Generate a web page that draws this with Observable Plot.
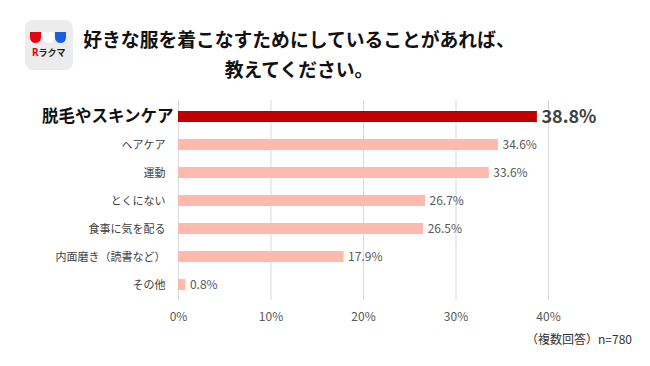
<!DOCTYPE html>
<html><head><meta charset="utf-8">
<script src="https://cdn.jsdelivr.net/npm/d3@7"></script>
<script src="https://cdn.jsdelivr.net/npm/@observablehq/plot@0.6"></script>
<style>
body{margin:0;background:#fff;font-family:"Noto Sans CJK JP","Noto Sans",sans-serif;}
#wrap{position:relative;width:650px;height:366px;overflow:hidden;background:#fff;}
#title{position:absolute;left:62px;top:24px;width:474px;text-align:center;font-size:18.8px;font-weight:bold;line-height:30px;color:#111;white-space:nowrap;}
#logo{position:absolute;left:25px;top:20px;}
#caption{position:absolute;right:18px;top:330px;font-size:12px;color:#333;}
#chart{position:absolute;left:0;top:0;}
</style></head>
<body><div id="wrap">
<div id="chart"></div>
<svg id="logo" width="48" height="50" viewBox="0 0 48 50">
<rect x="0" y="0" width="48" height="50" rx="8" fill="#ececec"/>
<path d="M5 12 h11 v5.5 a5.5 5.5 0 0 1 -11 0 z" fill="#e60012"/>
<path d="M18 12 h11 v5.5 a5.5 5.5 0 0 1 -11 0 z" fill="#ffffff"/>
<path d="M30 12 h11 v5.5 a5.5 5.5 0 0 1 -11 0 z" fill="#1a5fe0"/>
<text x="7" y="36" font-size="10" font-weight="bold" fill="#e60012" font-family="Noto Sans">R</text>
<text x="13.5" y="36" font-size="9" font-weight="bold" fill="#222" font-family="Noto Sans CJK JP">ラクマ</text>
</svg>
<div id="title">好きな服を着こなすためにしていることがあれば、<br>教えてください。</div>
<div id="caption">（複数回答）n=780</div>
</div>
<script>
const categories = ["脱毛やスキンケア","ヘアケア","運動","とくにない","食事に気を配る","内面磨き（読書など）","その他"];
const values = [38.8, 34.6, 33.6, 26.7, 26.5, 17.9, 0.8];
const ticks = [0, 10, 20, 30, 40];
const highlight = "脱毛やスキンケア";

const data = categories.map((c, i) => ({label: c, value: values[i]}));
const topRow = data.filter(d => d.label === highlight);
const rest = data.filter(d => d.label !== highlight);

const chart = Plot.plot({
  width: 650, height: 366,
  marginLeft: 178, marginRight: 102, marginTop: 100, marginBottom: 66,
  style: {fontFamily: '"Noto Sans CJK JP","Noto Sans",sans-serif', background: "transparent"},
  x: {domain: [0, 40], label: null, axis: null},
  y: {domain: categories, paddingInner: 0.62, paddingOuter: 0.31, axis: null},
  marks: [
    Plot.ruleX(ticks, {stroke: "#d9d9d9", strokeWidth: 1}),
    Plot.axisX({ticks: ticks, tickFormat: d => d + "%", tickSize: 0, tickPadding: 12, fontSize: 12, color: "#595959", label: null}),
    Plot.barX(data, {x: "value", y: "label", fill: d => d.label === highlight ? "#c00000" : "#ffb9ad"}),
    Plot.text(rest, {x: 0, y: "label", text: "label", textAnchor: "end", dx: -13, fontSize: 11, fill: "#404040"}),
    Plot.text(topRow, {x: 0, y: "label", text: "label", textAnchor: "end", dx: -5, fontSize: 16.5, fontWeight: "bold", fill: "#111"}),
    Plot.text(rest, {x: "value", y: "label", text: d => d.value.toFixed(1) + "%", textAnchor: "start", dx: 4, fontSize: 12, fill: "#595959"}),
    Plot.text(topRow, {x: "value", y: "label", text: d => d.value.toFixed(1) + "%", textAnchor: "start", dx: 4, fontSize: 18, fontWeight: "bold", fill: "#404040"})
  ]
});
document.getElementById("chart").appendChild(chart);
</script>
</body></html>
